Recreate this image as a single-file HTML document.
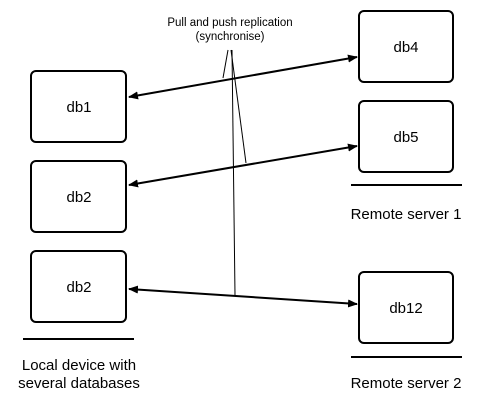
<!DOCTYPE html>
<html><head><style>
body{margin:0;background:#fff;}
svg{display:block;font-family:"Liberation Sans",Helvetica,Arial,sans-serif;}
</style></head><body>
<svg width="480" height="408" viewBox="0 0 480 408" xmlns="http://www.w3.org/2000/svg">
<defs>
<marker id="a" markerWidth="10" markerHeight="8" refX="9" refY="4" orient="auto-start-reverse" markerUnits="userSpaceOnUse">
<path d="M0,0 L10,4 L0,8 Z" fill="#000"/>
</marker>
</defs>
<g fill="#fff" stroke="#000" stroke-width="2">
<rect x="31" y="71" width="95" height="71" rx="5"/>
<rect x="31" y="161" width="95" height="71" rx="5"/>
<rect x="31" y="251" width="95" height="71" rx="5"/>
<rect x="359" y="11" width="94" height="71" rx="5"/>
<rect x="359" y="101" width="94" height="71" rx="5"/>
<rect x="359" y="272" width="94" height="71" rx="5"/>
</g>
<g stroke="#000" stroke-width="2">
<line x1="23" y1="339" x2="134" y2="339"/>
<line x1="351" y1="185" x2="462" y2="185"/>
<line x1="351" y1="357" x2="462" y2="357"/>
</g>
<g stroke="#000" stroke-width="1">
<line x1="228" y1="50" x2="223" y2="78"/>
<line x1="231" y1="50" x2="246" y2="163"/>
<line x1="232" y1="50" x2="235" y2="295"/>
</g>
<g stroke="#000" stroke-width="2" marker-start="url(#a)" marker-end="url(#a)">
<line x1="129" y1="97" x2="357" y2="57"/>
<line x1="129" y1="185" x2="357" y2="146"/>
<line x1="129" y1="289" x2="357" y2="304"/>
</g>
<g font-size="15" text-anchor="middle" fill="#000">
<text x="79" y="112">db1</text>
<text x="79" y="202">db2</text>
<text x="79" y="292">db2</text>
<text x="406" y="52">db4</text>
<text x="406" y="142">db5</text>
<text x="406" y="313">db12</text>
<text x="79" y="370">Local device with</text>
<text x="79" y="388">several databases</text>
<text x="406" y="219">Remote server 1</text>
<text x="406" y="388">Remote server 2</text>
</g>
<g font-size="11.5" text-anchor="middle" fill="#000">
<text x="230" y="26">Pull and push replication</text>
<text x="230" y="40">(synchronise)</text>
</g>
</svg>
</body></html>
